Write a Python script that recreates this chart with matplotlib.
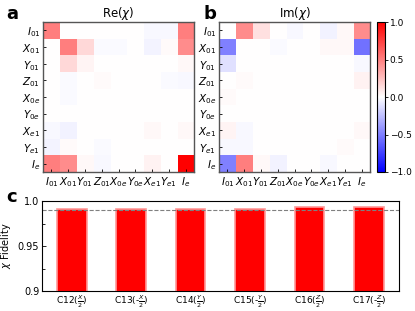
import matplotlib
matplotlib.use("Agg")
import matplotlib.pyplot as plt
import numpy as np

# Pauli-like basis labels for the 9x9 process matrix
BASIS = [r"$I_{01}$", r"$X_{01}$", r"$Y_{01}$", r"$Z_{01}$", r"$X_{0e}$",
         r"$Y_{0e}$", r"$X_{e1}$", r"$Y_{e1}$", r"$I_e$"]

RE_CHI = [
    [0.50, 0.00, 0.00, 0.00, 0.00, 0.00, -0.03, -0.03, 0.50],
    [0.00, 0.50, 0.15, -0.02, -0.02, 0.00, -0.04, 0.02, 0.45],
    [0.00, 0.15, 0.04, 0.00, 0.00, 0.00, 0.00, 0.00, 0.03],
    [0.00, -0.02, 0.00, 0.02, 0.00, 0.00, 0.00, -0.02, -0.03],
    [0.00, -0.02, 0.00, 0.00, 0.00, 0.00, 0.00, 0.00, 0.00],
    [0.00, 0.00, 0.00, 0.00, 0.00, 0.00, 0.00, 0.00, 0.00],
    [-0.03, -0.05, 0.00, 0.00, 0.00, 0.00, 0.03, 0.00, 0.03],
    [-0.04, 0.02, 0.00, -0.02, 0.00, 0.00, 0.00, 0.00, 0.00],
    [0.50, 0.45, 0.03, -0.03, 0.00, 0.00, 0.05, 0.00, 1.00],
]

IM_CHI = [
    [0.00, 0.45, 0.12, 0.00, -0.03, 0.00, -0.05, 0.03, 0.45],
    [-0.50, 0.00, 0.00, -0.02, 0.00, 0.00, 0.03, 0.03, -0.55],
    [-0.12, 0.00, 0.00, 0.00, 0.00, 0.00, 0.00, 0.00, -0.03],
    [0.00, 0.02, 0.00, 0.00, 0.00, 0.00, 0.00, 0.00, 0.05],
    [0.02, 0.00, 0.00, 0.00, 0.00, 0.00, 0.00, 0.00, 0.00],
    [0.00, 0.00, 0.00, 0.00, 0.00, 0.00, 0.00, 0.00, 0.00],
    [0.04, -0.03, 0.00, 0.00, 0.00, 0.00, 0.00, 0.00, 0.03],
    [-0.03, -0.03, 0.00, 0.00, 0.00, 0.00, 0.00, 0.02, 0.00],
    [-0.50, 0.50, 0.03, -0.05, 0.00, 0.00, -0.03, 0.00, 0.00],
]

GATES = [r"C12($\frac{X}{2}$)", r"C13(-$\frac{X}{2}$)", r"C14($\frac{Y}{2}$)",
         r"C15(-$\frac{Y}{2}$)", r"C16($\frac{Z}{2}$)", r"C17(-$\frac{Z}{2}$)"]
FIDELITY = [0.9916, 0.9912, 0.9916, 0.9915, 0.9938, 0.9935]
THRESHOLD = 0.99

plt.rcParams["font.family"] = "DejaVu Sans"
plt.rcParams["font.size"] = 6.5


def draw_chi(ax, data, title):
    im = ax.imshow(np.array(data), cmap="bwr", vmin=-1, vmax=1,
                   interpolation="nearest", aspect="auto")
    ax.set_xticks(range(len(BASIS)))
    ax.set_yticks(range(len(BASIS)))
    ax.set_xticklabels(BASIS, fontsize=7.5)
    ax.set_yticklabels(BASIS, fontsize=7.5)
    ax.tick_params(direction="in", length=2, width=0.6, pad=2)
    ax.set_title(title, fontsize=8.5, pad=4)
    for s in ax.spines.values():
        s.set_color("#555555")
        s.set_linewidth(1.0)
    return im


fig = plt.figure(figsize=(4.15, 3.11), dpi=100)

ax_a = fig.add_axes([0.1036, 0.447, 0.364, 0.482])
ax_b = fig.add_axes([0.5277, 0.447, 0.364, 0.482])
cax = fig.add_axes([0.9084, 0.447, 0.0193, 0.482])
ax_c = fig.add_axes([0.101, 0.0643, 0.860, 0.289])

im = draw_chi(ax_a, RE_CHI, r"Re($\chi$)")
draw_chi(ax_b, IM_CHI, r"Im($\chi$)")

cb = fig.colorbar(im, cax=cax, ticks=[-1, -0.5, 0, 0.5, 1])
cb.ax.tick_params(labelsize=6.5, length=2.5, width=0.6, direction="out", pad=1)
cb.ax.set_yticklabels(["\u22121.0", "\u22120.5", "0.0", "0.5", "1.0"])
cb.outline.set_linewidth(0.8)

x = np.arange(len(GATES))
ax_c.bar(x, FIDELITY, width=0.5, color="red", edgecolor=(1, 0.6, 0.6),
         linewidth=1.2)
ax_c.axhline(THRESHOLD, color="gray", linestyle="--", linewidth=0.8)
ax_c.set_xlim(-0.5, len(GATES) - 0.5)
ax_c.set_ylim(0.9, 1.0)
ax_c.set_yticks([0.9, 0.95, 1.0])
ax_c.set_yticklabels(["0.9", "0.95", "1.0"])
ax_c.set_yticks([0.925, 0.975], minor=True)
ax_c.set_xticks(x)
ax_c.set_xticklabels(GATES, fontsize=6.5)
ax_c.set_ylabel(r"$\chi$ Fidelity", fontsize=7, labelpad=3)
ax_c.tick_params(direction="in", length=3, width=0.6, labelsize=7, pad=2)
ax_c.tick_params(which="minor", direction="in", length=2, width=0.6)
ax_c.tick_params(axis="x", length=0, pad=1.5, labelsize=6.5)
for s in ax_c.spines.values():
    s.set_linewidth(0.8)

fig.text(0.015, 0.985, "a", fontsize=13, fontweight="bold", va="top")
fig.text(0.49, 0.985, "b", fontsize=13, fontweight="bold", va="top")
fig.text(0.015, 0.395, "c", fontsize=13, fontweight="bold", va="top")

fig.savefig("out.png", dpi=100)
